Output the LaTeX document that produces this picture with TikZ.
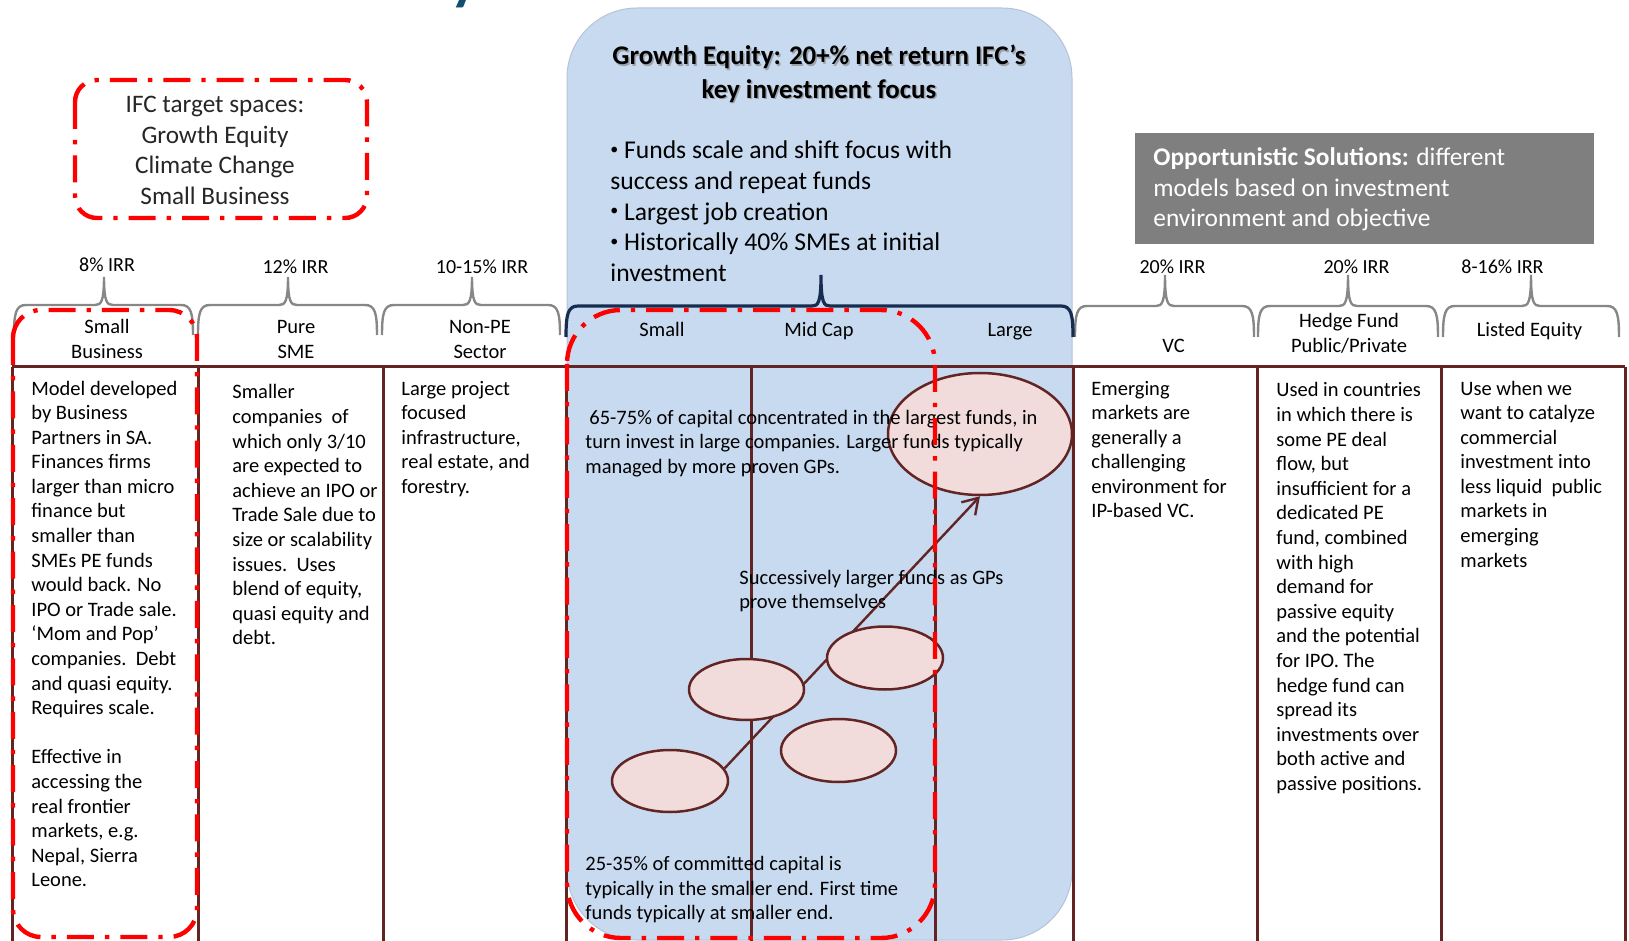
\documentclass[tikz,border=0pt]{standalone}
\usepackage{fontspec}
\setmainfont{Carlito}
\usetikzlibrary{arrows.meta,shapes.geometric}
\pgfdeclarelayer{bglayer}
\pgfdeclarelayer{midlayer}
\pgfsetlayers{bglayer,midlayer,main}
\definecolor{maroon}{RGB}{99,37,35}
\definecolor{geblue}{RGB}{200,218,240}
\definecolor{geborder}{RGB}{180,195,215}
\definecolor{ellfill}{RGB}{242,220,219}
\definecolor{bracegray}{RGB}{135,135,135}
\definecolor{navybrace}{RGB}{23,45,80}
\definecolor{oppgray}{RGB}{127,127,127}
\definecolor{titleblue}{RGB}{18,78,112}
\newcommand{\lefttext}[1]{\vtop{\hsize=420pt\parindent=0pt\parskip=0pt\raggedright\leavevmode#1}}
\newcommand{\centertext}[1]{\vtop{\hsize=300pt\parindent=0pt\parskip=0pt\centering\leavevmode#1}}
\newcommand{\smbul}{\raisebox{0.35ex}{\fontsize{8pt}{8pt}\selectfont •}}
\newcommand{\mybrace}[7]{%
\draw[#1] (#2,#7) .. controls (#2,{#5+8}) and ({#2+2},#5) .. ({#2+12},#5) -- ({#3-9},#5) .. controls ({#3-3},#5) and (#3,{#5-3}) .. (#3,#6) .. controls (#3,{#5-3}) and ({#3+3},#5) .. ({#3+9},#5) -- ({#4-12},#5) .. controls ({#4-2},#5) and (#4,{#5+8}) .. (#4,#7);}
\begin{document}
\begin{tikzpicture}[x=0.5pt,y=-0.5pt,
  body/.style={inner sep=0pt, font=\fontsize{10.25pt}{12.3pt}\selectfont, anchor=base west},
  hdr/.style={inner sep=0pt, font=\fontsize{10.25pt}{12.5pt}\selectfont, anchor=base},
  irr/.style={inner sep=0pt, font=\fontsize{10pt}{12pt}\selectfont, anchor=base},
  gridline/.style={draw=maroon, line width=1.5pt},
  redbox/.style={draw=red, line width=2.2pt, dash pattern=on 13.5pt off 5.5pt on 2.2pt off 5.5pt},
  graybr/.style={draw=bracegray, line width=1.2pt},
  navybr/.style={draw=navybrace, line width=1.6pt},
  fundell/.style={ellipse, draw=maroon, fill=ellfill, line width=1.25pt, inner sep=0pt},
  flow/.style={draw=maroon, line width=1.2pt, -{Straight Barb[length=7.5pt,width=9.5pt]}}
]
\useasboundingbox (0,0) rectangle (1629,941);

% title fragment
\node[anchor=base west, inner sep=0pt, text=titleblue, font=\fontsize{30pt}{30pt}\selectfont\bfseries] (ttl) at (450,-1) {y};

% growth equity background
\begin{pgfonlayer}{bglayer}
\draw[fill=geblue, draw=geborder, line width=0.5pt, rounded corners=35pt] (567,8) rectangle (1072,940);
\end{pgfonlayer}

% grid
\draw[gridline] (12,367) -- (1625,367);
\foreach \x in {12,198,383,566,751,935,1073,1257,1441,1625} \draw[gridline] (\x,367) -- (\x,941);

% braces
\mybrace{graybr}{14}{104}{193}{305}{277}{335}
\mybrace{graybr}{198}{288}{377}{305}{277}{335}
\mybrace{graybr}{382}{472}{560}{305}{277}{335}
\mybrace{graybr}{1075}{1165}{1254}{306}{275}{337}
\mybrace{graybr}{1258}{1348}{1438}{306}{275}{337}
\mybrace{graybr}{1443}{1531}{1619}{306}{275}{337}
\mybrace{navybr}{566}{821}{1073}{306}{275}{337}

% IRR labels
\node[irr] (irr1) at (107,272) {8\% IRR};
\node[irr] (irr2) at (295.5,274) {12\% IRR};
\node[irr] (irr3) at (482,274) {10-15\% IRR};
\node[irr] (irr4) at (1172.5,274) {20\% IRR};
\node[irr] (irr5) at (1356.5,274) {20\% IRR};
\node[irr] (irr6) at (1502.5,274) {8-16\% IRR};

% headers
\node[hdr] (h1) at (107,333.5) {\centertext{Small\\Business}};
\node[hdr] (h2) at (296,333.5) {\centertext{Pure\\SME}};
\node[hdr] (h3) at (480,333.5) {\centertext{Non-PE\\Sector}};
\node[hdr] (h4) at (662,336.5) {Small};
\node[hdr] (h5) at (819,336.5) {Mid Cap};
\node[hdr] (h6) at (1010,336.5) {Large};
\node[hdr] (h7) at (1173.5,352.5) {VC};
\node[hdr] (h8) at (1349,327.5) {\centertext{Hedge Fund\\Public/Private}};
\node[hdr] (h9) at (1529.5,336.5) {Listed Equity};

% column bodies
\node[body] (c1) at (31,395) {\lefttext{Model developed\\by Business\\Partners in SA.\\Finances firms\\larger than micro\\finance but\\smaller than\\SMEs PE funds\\would back. No\\IPO or Trade sale.\\‘Mom and Pop’\\companies.\ \ Debt\\and quasi equity.\\Requires scale.\\[12.3pt]Effective in\\accessing the\\real frontier\\markets, e.g.\\Nepal, Sierra\\Leone.}};
\node[body] (c2) at (232,399) {\lefttext{Smaller\\companies\ \ of\\which only 3/10\\are expected to\\achieve an IPO or\\Trade Sale due to\\size or scalability\\issues.\ \ Uses\\blend of equity,\\quasi equity and\\debt.}};
\node[body] (c3) at (401,395) {\lefttext{Large project\\focused\\infrastructure,\\real estate, and\\forestry.}};
\node[body] (c7) at (1091,395) {\lefttext{Emerging\\markets are\\generally a\\challenging\\environment for\\IP-based VC.}};
\node[body] (c8) at (1276,397) {\lefttext{Used in countries\\in which there is\\some PE deal\\flow, but\\insufficient for a\\dedicated PE\\fund, combined\\with high\\demand for\\passive equity\\and the potential\\for IPO. The\\hedge fund can\\spread its\\investments over\\both active and\\passive positions.}};
\node[body] (c9) at (1460,395) {\lefttext{Use when we\\want to catalyze\\commercial\\investment into\\less liquid\ \ public\\markets in\\emerging\\markets}};

% growth equity heading and bullets
\node[anchor=base, inner sep=0pt, text=black!45, opacity=0.7, font=\fontsize{13.45pt}{16.6pt}\selectfont\bfseries] (gshadow) at (820.5,66.5) {\centertext{Growth Equity: 20+\% net return IFC’s\\key investment focus}};
\node[anchor=base, inner sep=0pt, font=\fontsize{13.45pt}{16.6pt}\selectfont\bfseries] (gtitle) at (819,65) {\centertext{Growth Equity: 20+\% net return IFC’s\\key investment focus}};
\node[anchor=base west, inner sep=0pt, font=\fontsize{12.8pt}{15.3pt}\selectfont] (gbullets) at (610,159) {\lefttext{\smbul\ Funds scale and shift focus with\\success and repeat funds\\\smbul\ Largest job creation\\\smbul\ Historically 40\% SMEs at initial\\investment}};

% opportunistic box
\node[fill=oppgray, minimum width=229.5pt, minimum height=55.5pt, anchor=north west, inner sep=0pt] (opp) at (1135,133) {};
\node[anchor=base west, inner sep=0pt, text=white, font=\fontsize{12.7pt}{15.25pt}\selectfont] (opptext) at (1153,166) {\lefttext{\textbf{Opportunistic Solutions:} different\\models based on investment\\environment and objective}};

% fund ellipses
\node[fundell, minimum width=92pt, minimum height=61pt] (large) at (980,434) {};
\node[fundell, minimum width=58pt, minimum height=31.5pt] (e2) at (885,658) {};
\node[fundell, minimum width=57.5pt, minimum height=30.5pt] (e3) at (746.5,689.5) {};
\node[fundell, minimum width=57.5pt, minimum height=31.5pt] (e4) at (838.5,750.5) {};
\node[fundell, minimum width=58pt, minimum height=31pt] (e5) at (670,781) {};
\begin{pgfonlayer}{midlayer}
\draw[flow] (e5.13) -- (large.south);
\end{pgfonlayer}

% growth texts
\node[body] (gt1) at (585,424) {\lefttext{\hspace*{2pt}65-75\% of capital concentrated in the largest funds, in\\turn invest in large companies. Larger funds typically\\managed by more proven GPs.}};
\node[body] (gt2) at (739,584) {\lefttext{Successively larger funds as GPs\\prove themselves}};
\node[body] (gt3) at (585,870.5) {\lefttext{25-35\% of committed capital is\\typically in the smaller end. First time\\funds typically at smaller end.}};

% IFC target box
\node[anchor=base, inner sep=0pt, text=black!85, font=\fontsize{12.6pt}{15.35pt}\selectfont] (ifc) at (215,112.5) {\centertext{IFC target spaces:\\Growth Equity\\Climate Change\\Small Business}};
\draw[redbox, rounded corners=11pt] (75,80) rectangle (367,218);
\draw[redbox, rounded corners=14pt] (13,310) rectangle (197,937);
\draw[redbox, rounded corners=27pt] (567,310) rectangle (935,938);
\end{tikzpicture}
\end{document}
